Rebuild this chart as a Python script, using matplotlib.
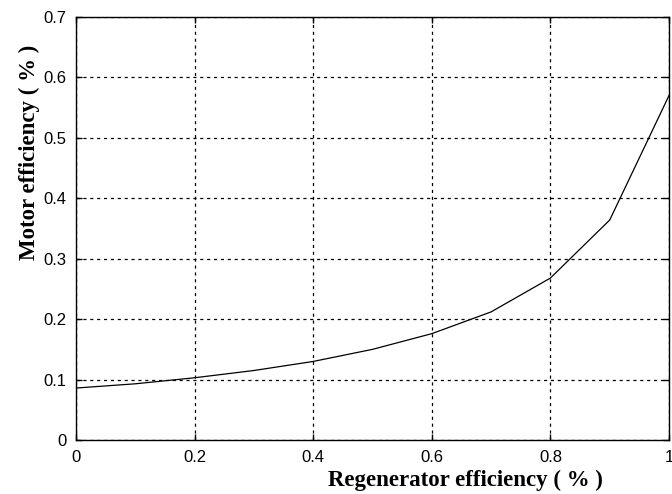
import matplotlib
matplotlib.use("Agg")
import matplotlib.pyplot as plt

# regenerator efficiency vs motor efficiency
regen_eff = [0.0, 0.1, 0.2, 0.3, 0.4, 0.5, 0.6, 0.7, 0.8, 0.9, 1.0]
motor_eff = [0.086, 0.093, 0.103, 0.115, 0.130, 0.150, 0.176, 0.212, 0.268, 0.364, 0.570]

x_ticks = [0, 0.2, 0.4, 0.6, 0.8, 1]
x_tick_labels = ["0", "0.2", "0.4", "0.6", "0.8", "1"]
y_ticks = [0, 0.1, 0.2, 0.3, 0.4, 0.5, 0.6, 0.7]
y_tick_labels = ["0", "0.1", "0.2", "0.3", "0.4", "0.5", "0.6", "0.7"]

fig = plt.figure(figsize=(6.72, 4.94), dpi=100)
ax = fig.add_axes([76 / 672, 1 - 440 / 494, 593 / 672, 423 / 494])

ax.plot(regen_eff, motor_eff, color="black", linewidth=0.9)

ax.set_xlim(0, 1)
ax.set_ylim(0, 0.7)
ax.set_xticks(x_ticks)
ax.set_xticklabels(x_tick_labels)
ax.set_yticks(y_ticks)
ax.set_yticklabels(y_tick_labels)
ax.tick_params(direction="in", length=4, width=1, labelsize=12,
               top=True, right=True, pad=7)
for label in ax.get_xticklabels() + ax.get_yticklabels():
    label.set_fontfamily("Liberation Sans")

ax.grid(True, color="black", linestyle=(0, (2.5, 3)), linewidth=0.9)
for spine in ax.spines.values():
    spine.set_linewidth(1.0)

label_font = {"family": "Liberation Serif", "weight": "bold", "size": 16.5}
ax.set_xlabel("Regenerator efficiency ( % )", fontdict=label_font)
ax.xaxis.set_label_coords(0.656, -0.071)
ax.set_ylabel("Motor efficiency ( % )", fontdict=label_font)
ax.yaxis.set_label_coords(-0.061, 0.68)

fig.savefig("out.png", dpi=100)
